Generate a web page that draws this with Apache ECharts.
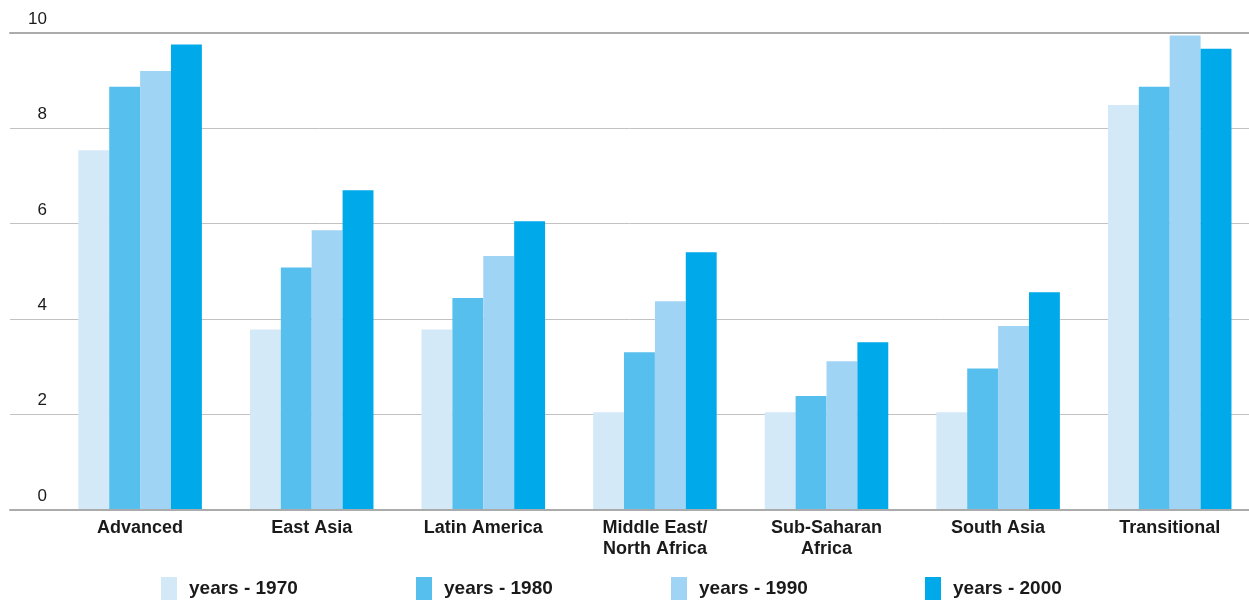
<!DOCTYPE html>
<html>
<head>
<meta charset="utf-8">
<script src="https://cdn.jsdelivr.net/npm/echarts@6/dist/echarts.min.js"></script>
<style>
  html, body { margin: 0; padding: 0; background: #ffffff; }
  #chart { width: 1249px; height: 602px; }
</style>
</head>
<body>
<div id="chart"></div>
<script>
// Regions on the category axis
const regions = ['Advanced', 'East Asia', 'Latin America', 'Middle East/\nNorth Africa', 'Sub-Saharan\nAfrica', 'South Asia', 'Transitional'];

// Average years of schooling per region, by decade
const years1970 = [7.54, 3.78, 3.78, 2.04, 2.04, 2.04, 8.49];
const years1980 = [8.87, 5.08, 4.44, 3.30, 2.38, 2.96, 8.87];
const years1990 = [9.20, 5.86, 5.32, 4.37, 3.11, 3.85, 9.95];
const years2000 = [9.76, 6.70, 6.05, 5.40, 3.51, 4.56, 9.67];

const seriesNames = ['years - 1970', 'years - 1980', 'years - 1990', 'years - 2000'];
const seriesData = [years1970, years1980, years1990, years2000];
const seriesColors = ['#d3e9f8', '#56bfee', '#a0d4f4', '#00a9ea'];

// Value axis ticks
const yMin = 0, yMax = 10, yStep = 2;

const FONT = '"Liberation Sans", Arial, Helvetica, sans-serif';
const TEXT = '#1a1a1a';

const chart = echarts.init(document.getElementById('chart'), null, { renderer: 'canvas' });

const legendLefts = [161, 416, 671, 925];

const option = {
  backgroundColor: '#ffffff',
  animation: false,
  textStyle: { fontFamily: FONT },
  legend: seriesNames.map((name, i) => ({
    data: [name],
    left: legendLefts[i],
    top: 577,
    padding: 0,
    icon: 'rect',
    itemWidth: 16,
    itemHeight: 23,
    selectedMode: false,
    textStyle: {
      fontFamily: FONT,
      fontSize: 19,
      fontWeight: 'bold',
      color: TEXT,
      padding: [0, 0, 0, 7]
    }
  })),
  grid: [
    // full-width frame carrying the value labels and rules
    { left: 10, right: 0, top: 33, bottom: 92.5, outerBoundsMode: 'none' },
    // plotting area for the bars (runs slightly past the right edge)
    { left: 54.3, width: 1201.2, top: 33, bottom: 92.5, outerBoundsMode: 'none', containLabel: false }
  ],
  xAxis: [
    {
      gridIndex: 0, type: 'value', min: 0, max: 1, position: 'bottom', z: 3,
      axisLine: { show: true, lineStyle: { color: '#ababab', width: 2 } },
      axisTick: { show: false }, axisLabel: { show: false }, splitLine: { show: false }
    },
    {
      gridIndex: 0, type: 'value', min: 0, max: 1, position: 'top',
      axisLine: { show: true, lineStyle: { color: '#ababab', width: 2 } },
      axisTick: { show: false }, axisLabel: { show: false }, splitLine: { show: false }
    },
    {
      gridIndex: 1, type: 'category', data: regions, position: 'bottom',
      axisLine: { show: false }, axisTick: { show: false },
      axisLabel: {
        interval: 0,
        margin: 8,
        fontFamily: FONT,
        fontSize: 18,
        fontWeight: 'bold',
        lineHeight: 21,
        color: TEXT
      }
    }
  ],
  yAxis: [
    {
      gridIndex: 0, type: 'value', min: yMin, max: yMax, interval: yStep,
      axisLine: { show: false }, axisTick: { show: false },
      axisLabel: {
        margin: -37,
        align: 'right',
        verticalAlign: 'bottom',
        padding: [0, 0, 5, 0],
        fontFamily: FONT,
        fontSize: 17,
        lineHeight: 17,
        color: TEXT
      },
      splitLine: { show: true, lineStyle: { color: '#c2c2c2', width: 1 } }
    },
    {
      gridIndex: 1, type: 'value', min: yMin, max: yMax, interval: yStep, show: false,
      splitLine: { show: false }
    }
  ],
  series: seriesNames.map((name, i) => ({
    name: name,
    type: 'bar',
    xAxisIndex: 2,
    yAxisIndex: 1,
    data: seriesData[i],
    barGap: '0%',
    barCategoryGap: '28%',
    itemStyle: { color: seriesColors[i] },
    emphasis: { disabled: true }
  }))
};

chart.setOption(option);
</script>
</body>
</html>
